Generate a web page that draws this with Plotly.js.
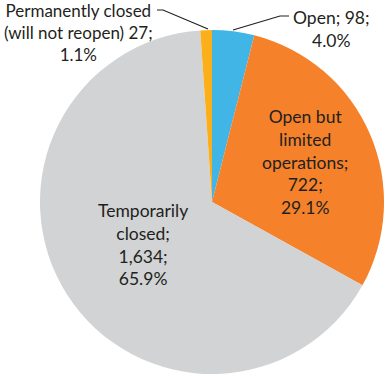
<!DOCTYPE html>
<html>
<head>
<meta charset="utf-8">
<script src="https://cdn.plot.ly/plotly-3.0.1.min.js"></script>
<style>html,body{margin:0;padding:0;background:#fff;}#chart{width:386px;height:376px;}</style>
</head>
<body>
<div id="chart"></div>
<script>
const categories = ["Open", "Open but limited operations", "Temporarily closed", "Permanently closed (will not reopen)"];
const labelLines = [["Open; 98;", "4.0%"], ["Open but", "limited", "operations;", "722;", "29.1%"], ["Temporarily", "closed;", "1,634;", "65.9%"], ["Permanently closed", "(will not reopen) 27;", "1.1%"]];
const values = [98, 722, 1634, 27];
const percents = ["4.0%", "29.1%", "65.9%", "1.1%"];
const colors = ["#41b6e6", "#f5822a", "#d1d3d4", "#fbb01b"];

const W = 386, H = 376;
const px = x => x / W;
const py = y => 1 - y / H;
const labelPos = [[331, 29], [305, 162], [143, 244], [78, 32]];

const annotations = labelLines.map((lines, i) => ({
  text: lines.join("<br>"),
  x: px(labelPos[i][0]), y: py(labelPos[i][1]),
  xref: "paper", yref: "paper", xanchor: "center", yanchor: "middle",
  showarrow: false, align: "center",
  font: {family: "Lato, 'Open Sans', sans-serif", size: i === 3 ? 17 : 17.5, color: "#231f20"}
}));

function poly(pts) {
  return "M" + pts.map(p => px(p[0]) + "," + py(p[1])).join(" L");
}
const shapes = [
  {type: "path", xref: "paper", yref: "paper", path: poly([[233, 30], [280, 16], [289, 16]]), line: {color: "#231f20", width: 1.2}},
  {type: "path", xref: "paper", yref: "paper", path: poly([[208, 29], [163, 10], [157, 10]]), line: {color: "#231f20", width: 1.2}}
];

const trace = {
  type: "pie",
  labels: categories,
  values: values,
  marker: {colors: colors, line: {width: 0}},
  sort: false,
  direction: "clockwise",
  rotation: 0,
  textinfo: "none",
  hoverinfo: "label+value+percent",
  domain: {x: [40 / W, 384 / W], y: [2 / H, 346 / H]},
  showlegend: false
};

Plotly.newPlot("chart", [trace], {
  width: W, height: H,
  margin: {l: 0, r: 0, t: 0, b: 0},
  paper_bgcolor: "#fff",
  annotations: annotations,
  shapes: shapes,
  showlegend: false
}, {displayModeBar: false, staticPlot: true});
</script>
</body>
</html>
